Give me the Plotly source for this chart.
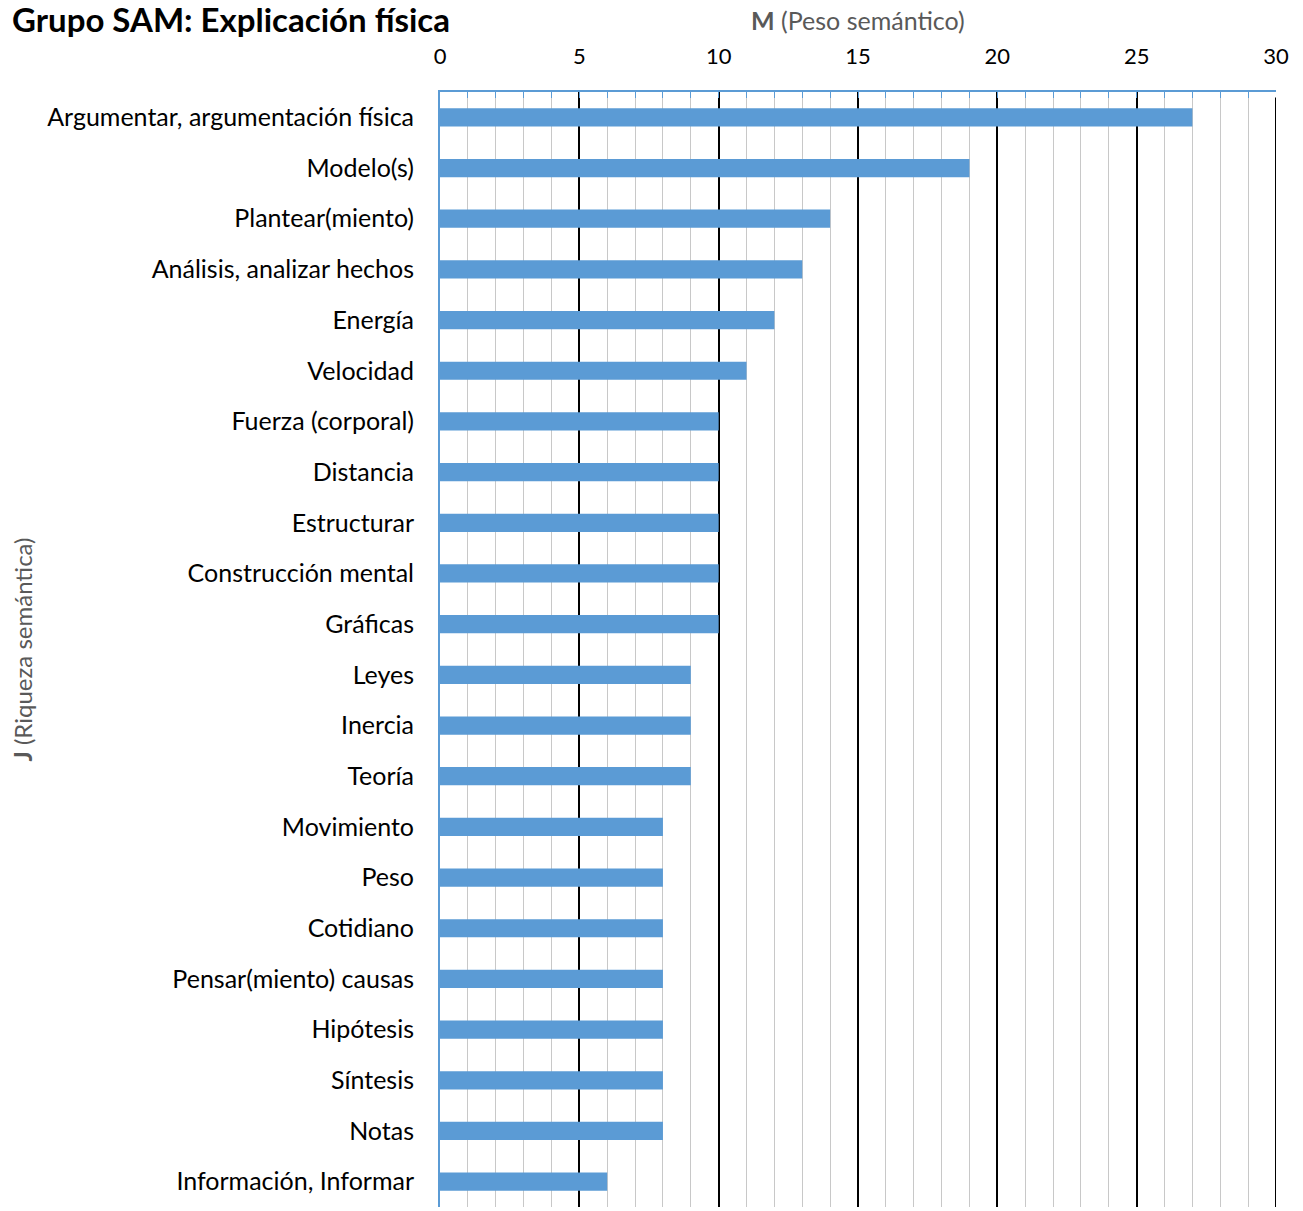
import plotly.graph_objects as go

categories = [
    "Argumentar, argumentación física", "Modelo(s)", "Plantear(miento)",
    "Análisis, analizar hechos", "Energía", "Velocidad", "Fuerza (corporal)",
    "Distancia", "Estructurar", "Construcción mental", "Gráficas", "Leyes",
    "Inercia", "Teoría", "Movimiento", "Peso", "Cotidiano",
    "Pensar(miento) causas", "Hipótesis", "Síntesis", "Notas",
    "Información, Informar",
]
values = [27, 19, 14, 13, 12, 11, 10, 10, 10, 10, 10, 9, 9, 9, 8, 8, 8, 8, 8, 8, 8, 6]
x_ticks = [0, 5, 10, 15, 20, 25, 30]

FONT = "Lato"
BLUE = "#5b9bd5"

fig = go.Figure(go.Bar(
    x=values, y=categories, orientation="h",
    marker=dict(color=BLUE, line=dict(width=0)), width=0.36,
))

W, H = 1303, 1211
ML, MR, MT, MB = 440, 27, 92, 4
pw = W - ML - MR
ph = H - MT - MB

fig.update_layout(
    width=W, height=H,
    margin=dict(l=ML, r=MR, t=MT, b=MB),
    paper_bgcolor="white", plot_bgcolor="white",
    font=dict(family=FONT, size=21, color="black"),
    showlegend=False,
    xaxis=dict(
        side="top", range=[0, 30], tickvals=x_ticks,
        showgrid=True, gridcolor="black", gridwidth=2,
        minor=dict(dtick=1, showgrid=True, gridcolor="#c8c8c8", gridwidth=1,
                   ticks="inside", ticklen=6, tickcolor=BLUE),
        ticks="inside", ticklen=6, tickcolor=BLUE,
        showline=True, linecolor=BLUE, linewidth=2,
        zeroline=False, ticklabelstandoff=17,
        tickfont=dict(family=FONT, size=22, color="black"),
    ),
    yaxis=dict(
        categoryorder="array", categoryarray=categories, autorange="reversed",
        showline=True, linecolor=BLUE, linewidth=2,
        showgrid=False, ticks="", ticklabelstandoff=19,
        tickfont=dict(family=FONT, size=25, color="black"),
    ),
    shapes=[
        dict(type="line", xref="x", yref="paper", x0=30, x1=30, y0=0, y1=0.995,
             line=dict(color="black", width=2), layer="above"),
    ],
    annotations=[
        dict(text="<b>Grupo SAM: Explicación física</b>",
             x=(10 - ML) / pw, y=1 + (MT - 19) / ph,
             xref="paper", yref="paper", showarrow=False, xanchor="left",
             yanchor="middle", font=dict(family=FONT, size=33, color="black")),
        dict(text="<b>M</b> (Peso semántico)", x=0.5, y=1 + (MT - 20) / ph,
             xref="paper", yref="paper", showarrow=False, xanchor="center",
             yanchor="middle", font=dict(family=FONT, size=25, color="#595959")),
        dict(text="<b>J</b> (Riqueza semántica)", x=(22 - ML) / pw, y=0.5,
             xref="paper", yref="paper", showarrow=False, textangle=-90,
             xanchor="center", yanchor="middle",
             font=dict(family=FONT, size=24, color="#595959")),
    ],
)

fig.write_html("out.html")
